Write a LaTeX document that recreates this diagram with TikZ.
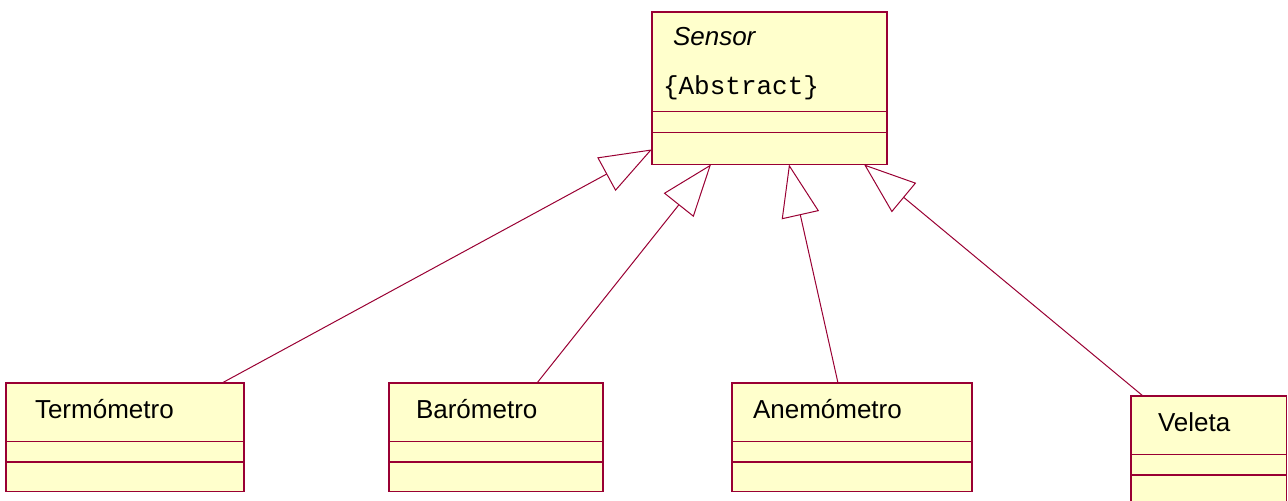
\documentclass[tikz,border=0pt]{standalone}
\usepackage{fontspec}
\setmainfont{Liberation Sans}
\setmonofont{Liberation Mono}
\usetikzlibrary{shapes.multipart}
\usetikzlibrary{arrows.meta}
\usetikzlibrary{calc}
\definecolor{umlred}{RGB}{153, 0, 51}
\definecolor{umlfill}{RGB}{255, 255, 204}

\begin{document}
\begin{tikzpicture}[x=0.5pt, y=-0.5pt,
  cls/.style={rectangle split, rectangle split parts=3,
    rectangle split part align=left, align=left,
    draw=umlred, fill=umlfill, line width=0.7pt, outer sep=0pt,
    inner ysep=0pt, font=\fontsize{13}{24.5}\selectfont},
  gen/.style={-{Triangle[open, length=26pt, width=19pt]},
    draw=umlred, line width=0.5pt}
]
  \useasboundingbox (0,0) rectangle (1288,500);

  \node[cls, minimum width=117.5pt, inner xsep=5.5pt, anchor=north west]
    (sensor) at (652,12)
    {\rule{0pt}{16.5pt}\hspace*{5pt}\textit{Sensor}\\
     \rule[-8pt]{0pt}{0pt}\texttt{\{Abstract\}}
     \nodepart{two}\rule{0pt}{9.8pt}
     \nodepart{three}\rule{0pt}{15.3pt}};

  \node[cls, minimum width=119pt, inner xsep=14.5pt, anchor=north west]
    (termo) at (6,383)
    {\rule[-11pt]{0pt}{28.5pt}Termómetro
     \nodepart{two}\rule{0pt}{9.5pt}
     \nodepart{three}\rule{0pt}{14pt}};
  \node[cls, minimum width=107pt, inner xsep=13.5pt, anchor=north west]
    (baro) at (389,383)
    {\rule[-11pt]{0pt}{28.5pt}Barómetro
     \nodepart{two}\rule{0pt}{9.5pt}
     \nodepart{three}\rule{0pt}{14pt}};
  \node[cls, minimum width=120pt, inner xsep=10.5pt, anchor=north west]
    (anemo) at (732,383)
    {\rule[-11pt]{0pt}{28.5pt}Anemómetro
     \nodepart{two}\rule{0pt}{9.5pt}
     \nodepart{three}\rule{0pt}{14pt}};
  \node[cls, minimum width=77.75pt, inner xsep=13.5pt, anchor=north west]
    (veleta) at (1131,396)
    {\rule[-11pt]{0pt}{28.5pt}Veleta
     \nodepart{two}\rule{0pt}{9.5pt}
     \nodepart{three}\rule{0pt}{14pt}};

  % generalizations
  \draw[gen] ($(termo.north west)+(216,0)$) -- ($(sensor.south west)+(0,-15)$);
  \draw[gen] ($(baro.north west)+(148,0)$) -- ($(sensor.south west)+(59,0)$);
  \draw[gen] ($(anemo.north west)+(106,0)$) -- ($(sensor.south west)+(137,0)$);
  \draw[gen] ($(veleta.north west)+(12,0)$) -- ($(sensor.south west)+(212,0)$);
\end{tikzpicture}
\end{document}
